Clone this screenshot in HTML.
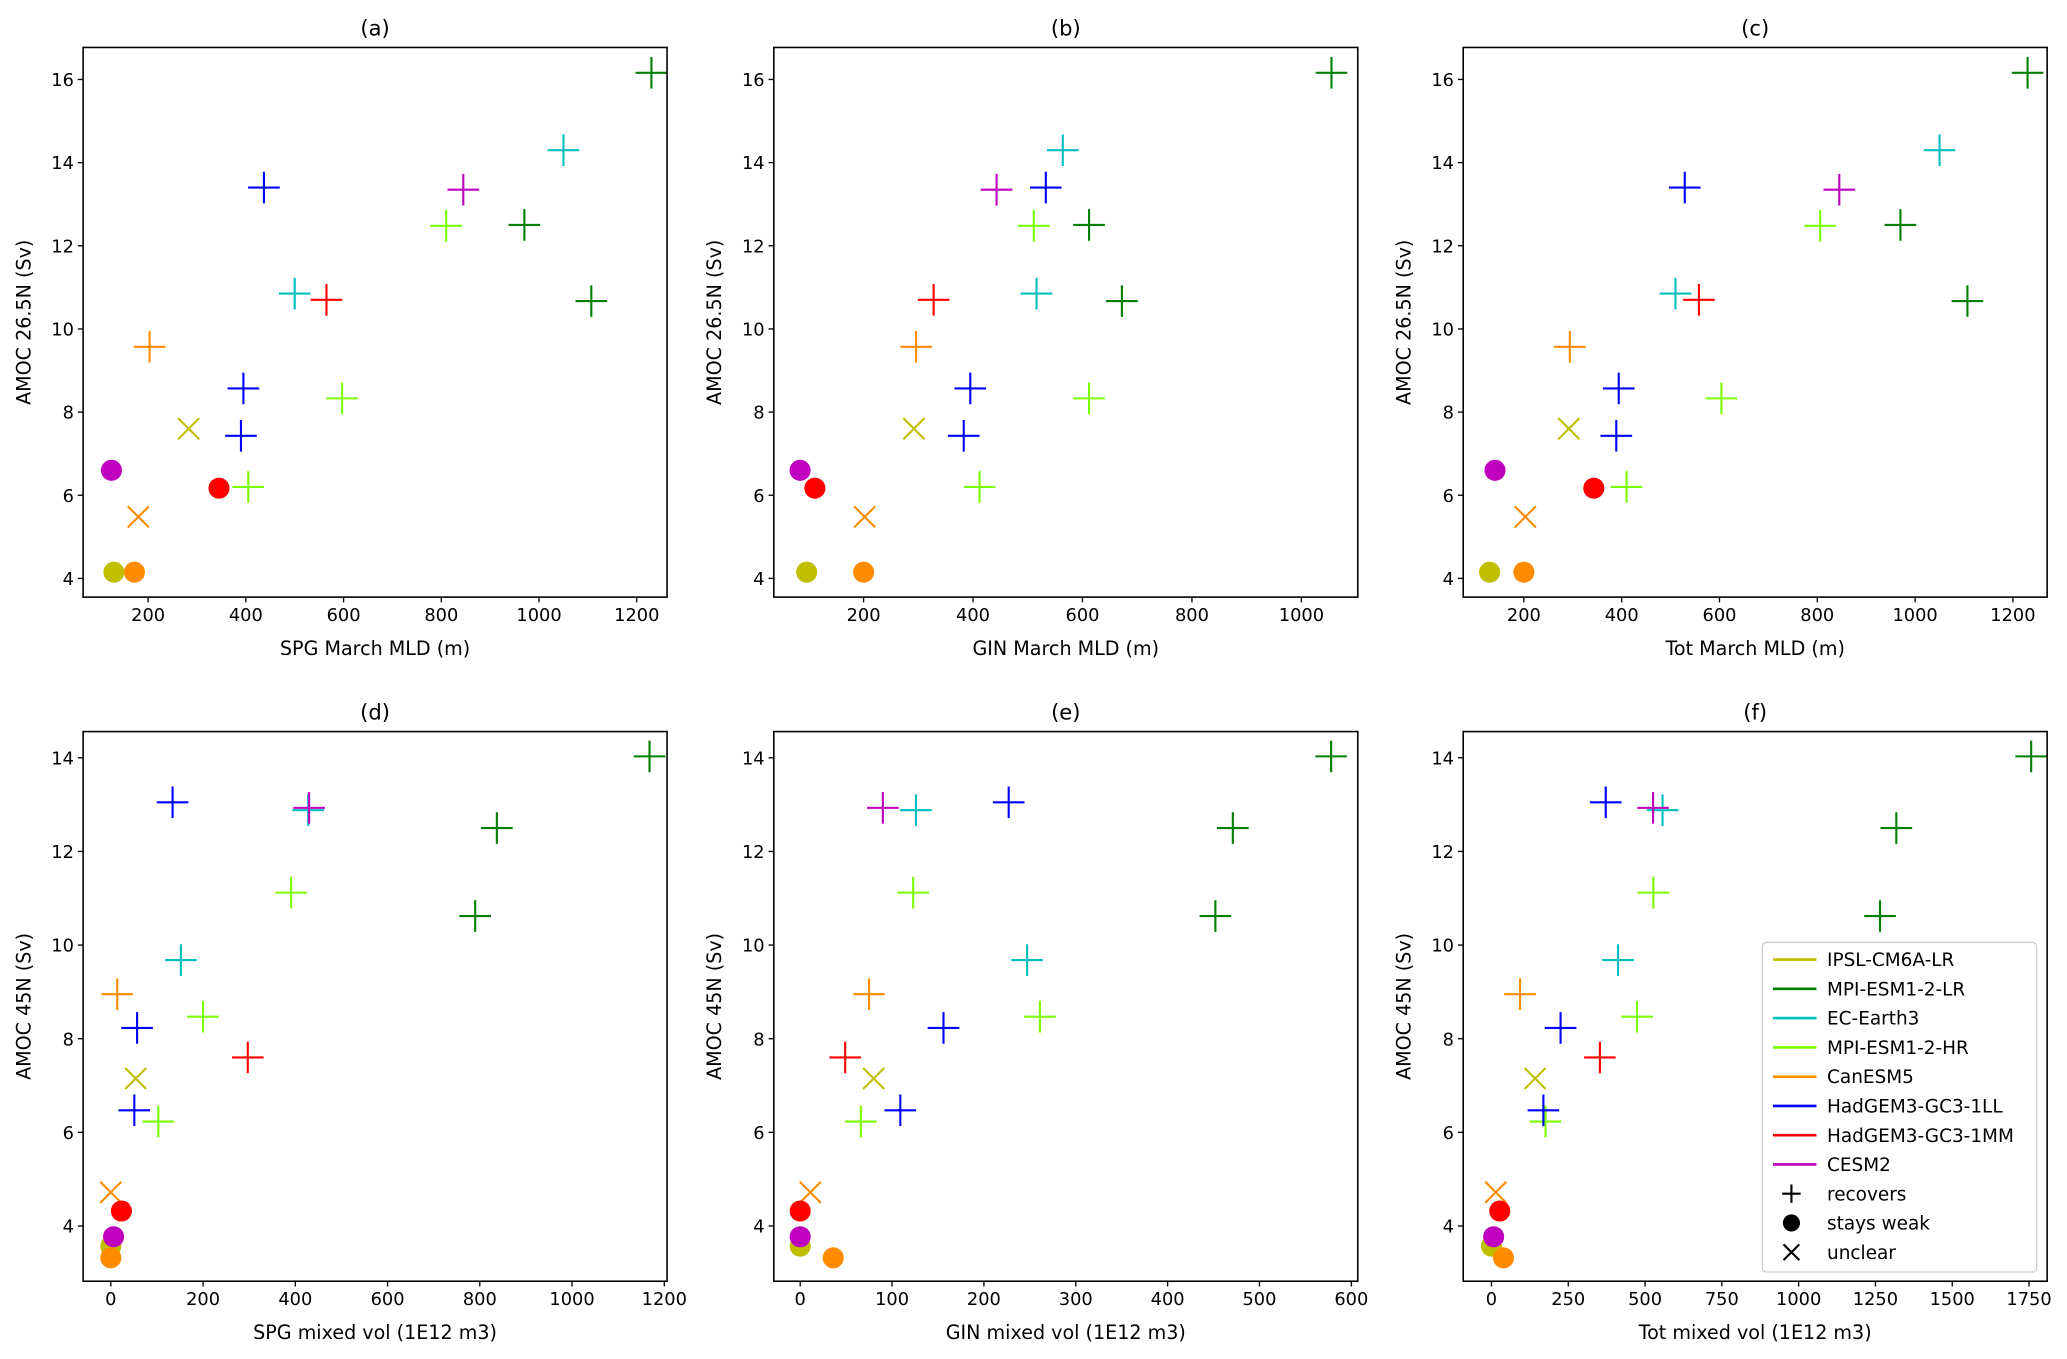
<!DOCTYPE html>
<html><head><meta charset="utf-8"><style>
html,body{margin:0;padding:0;background:#fff;}
svg{display:block;font-family:"DejaVu Sans","Liberation Sans",sans-serif;}
</style></head>
<body>
<svg id="fig" width="2067" height="1359" viewBox="0 0 1568 1031" xmlns="http://www.w3.org/2000/svg"></svg>
<script>
// ---- data ----
const models = ["IPSL-CM6A-LR","MPI-ESM1-2-LR","EC-Earth3","MPI-ESM1-2-HR","CanESM5","HadGEM3-GC3-1LL","HadGEM3-GC3-1MM","CESM2"];
const statuses = ["recovers","stays weak","unclear"];
const pointModel  = [1,1,1,2,2,5,5,5,7,7,3,3,3,6,6,4,4,4,0,0];
const pointStatus = [0,0,0,0,0,0,0,0,0,1,0,0,0,0,1,0,2,1,2,1];
const amoc26 = [16.16,12.5,10.67,14.3,10.85,13.4,8.57,7.43,13.35,6.6,12.48,8.33,6.2,10.7,6.17,9.57,5.48,4.15,7.6,4.15];
const amoc45 = [14.03,12.5,10.62,12.88,9.68,13.05,8.23,6.47,12.93,3.77,11.12,8.47,6.23,7.6,4.32,8.95,4.72,3.32,7.15,3.57];
const spgMld = [1230,970,1107,1050,500,437,395,390,845,125,810,597,405,565,345,203,180,172,283,130];
const ginMld = [1055,612,672,564,516,533,395,383,443,84,511,612,412,328,111,296,202,200,292,96];
const totMld = [1230,970,1107,1050,510,529,394,389,845,141,806,604,410,558,343,294,203,200,292,130];
const spgVol = [1168,837,790,428,152,134,57,51,430,6,391,200,103,297,23,14,0,0,54,0];
const ginVol = [578,471,452,126,247,227,156,109,90,0,123,261,66,49,0,75,11,36,80,0];
const totVol = [1757,1318,1265,557,412,372,225,169,526,7,527,474,176,353,27,93,14,39,142,0];
const ticksA = [200,400,600,800,1000,1200];
const ticksB = [200,400,600,800,1000];
const ticksTop = [4,6,8,10,12,14,16];
const ticksD = [0,200,400,600,800,1000,1200];
const ticksE = [0,100,200,300,400,500,600];
const ticksF = [0,250,500,750,1000,1250,1500,1750];
const ticksBot = [4,6,8,10,12,14];

const colors = ["#bfbf00","#008000","#00bfbf","#7cfc00","#ff8c00","#0000ff","#ff0000","#bf00bf"];
const NS="http://www.w3.org/2000/svg";
const svg=document.getElementById('fig');
function mk(tag,attrs,parent){const e=document.createElementNS(NS,tag);for(const k in attrs)e.setAttribute(k,attrs[k]);(parent||svg).appendChild(e);return e;}

const panels=[
 {id:"a",x0:63,x1:506,y0:36,y1:453,xd:[67,1262],yd:[3.55,16.77],xs:spgMld,ys:amoc26,xt:ticksA,yt:ticksTop,xl:"SPG March MLD (m)",yl:"AMOC 26.5N (Sv)"},
 {id:"b",x0:587,x1:1030,y0:36,y1:453,xd:[36,1103],yd:[3.55,16.77],xs:ginMld,ys:amoc26,xt:ticksB,yt:ticksTop,xl:"GIN March MLD (m)",yl:"AMOC 26.5N (Sv)"},
 {id:"c",x0:1110,x1:1553,y0:36,y1:453,xd:[76,1270],yd:[3.55,16.77],xs:totMld,ys:amoc26,xt:ticksA,yt:ticksTop,xl:"Tot March MLD (m)",yl:"AMOC 26.5N (Sv)"},
 {id:"d",x0:63,x1:506,y0:555,y1:972,xd:[-60,1206],yd:[2.82,14.56],xs:spgVol,ys:amoc45,xt:ticksD,yt:ticksBot,xl:"SPG mixed vol (1E12 m3)",yl:"AMOC 45N (Sv)"},
 {id:"e",x0:587,x1:1030,y0:555,y1:972,xd:[-28.7,607],yd:[2.82,14.56],xs:ginVol,ys:amoc45,xt:ticksE,yt:ticksBot,xl:"GIN mixed vol (1E12 m3)",yl:"AMOC 45N (Sv)"},
 {id:"f",x0:1110,x1:1553,y0:555,y1:972,xd:[-92,1809],yd:[2.82,14.56],xs:totVol,ys:amoc45,xt:ticksF,yt:ticksBot,xl:"Tot mixed vol (1E12 m3)",yl:"AMOC 45N (Sv)"}
];
const drawOrder=[0,1,2,3,4,5,6,7];

function marker(g,st,cx,cy,col){
  let m;
  if(st===0){
    m=mk('path',{d:`M${cx-12},${cy}H${cx+12}M${cx},${cy-12}V${cy+12}`,stroke:col,'stroke-width':1.6,fill:'none'},g);
  }else if(st===1){
    m=mk('circle',{cx:cx,cy:cy,r:8,fill:col},g);
  }else{
    m=mk('path',{d:`M${cx-8},${cy-8}L${cx+8},${cy+8}M${cx-8},${cy+8}L${cx+8},${cy-8}`,stroke:col,'stroke-width':1.6,fill:'none'},g);
  }
  return m;
}

panels.forEach(p=>{
  const g=mk('g',{});
  
  
  const X=v=>p.x0+(v-p.xd[0])/(p.xd[1]-p.xd[0])*(p.x1-p.x0);
  const Y=v=>p.y1-(v-p.yd[0])/(p.yd[1]-p.yd[0])*(p.y1-p.y0);
  const t=mk('text',{x:(p.x0+p.x1)/2,y:p.y0-9,'text-anchor':'middle','font-size':16},g);
  t.textContent='('+p.id+')';
  
  
  const pg=mk('g',{},g);
  
  
  drawOrder.forEach(mi=>{
    for(let i=0;i<pointModel.length;i++){
      if(pointModel[i]!==mi)continue;
      const m=marker(pg,pointStatus[i],X(p.xs[i]),Y(p.ys[i]),colors[mi]);
      
      
    }
  });
  const fr=mk('rect',{x:p.x0,y:p.y0,width:p.x1-p.x0,height:p.y1-p.y0,fill:'none',stroke:'#000','stroke-width':1.2},g);
  
  
  p.xt.forEach(v=>{
    const x=X(v);
    mk('line',{x1:x,x2:x,y1:p.y1,y2:p.y1+4,stroke:'#000','stroke-width':1},g);
    const tl=mk('text',{x:x,y:p.y1+18,'text-anchor':'middle','font-size':13.5},g);
    tl.textContent=v;
    
    
  });
  p.yt.forEach(v=>{
    const y=Y(v);
    mk('line',{x1:p.x0-4,x2:p.x0,y1:y,y2:y,stroke:'#000','stroke-width':1},g);
    const tl=mk('text',{x:p.x0-7,y:y+5,'text-anchor':'end','font-size':13.5},g);
    tl.textContent=v;
    
    
  });
  const xl=mk('text',{x:(p.x0+p.x1)/2,y:p.y1+44,'text-anchor':'middle','font-size':14.5},g);
  xl.textContent=p.xl;
  
  
  const yx=p.x0-40, yy=(p.y0+p.y1)/2;
  const yl=mk('text',{x:yx,y:yy,'text-anchor':'middle','font-size':14.5,transform:`rotate(-90 ${yx} ${yy})`},g);
  yl.textContent=p.yl;
  
  
});

const lg=mk('g',{});


mk('rect',{x:1337,y:715,width:208,height:250,rx:3,fill:'#fff','fill-opacity':0.85,stroke:'#ccc','stroke-width':1},lg);
const rowY=i=>728+i*22.2;
models.forEach((m,i)=>{
  const y=rowY(i);
  const ln=mk('line',{x1:1345,x2:1378,y1:y,y2:y,stroke:colors[i],'stroke-width':2},lg);
  
  
  const t=mk('text',{x:1386,y:y+5,'font-size':14},lg);
  t.textContent=m;
  
  
});
statuses.forEach((s,j)=>{
  const y=rowY(models.length+j);
  const mm=j===0?mk('path',{d:`M1352,${y}H1366M1359,${y-7}V${y+7}`,stroke:'#000','stroke-width':1.6,fill:'none'},lg)
    :j===1?mk('circle',{cx:1359,cy:y,r:6.5,fill:'#000'},lg)
    :mk('path',{d:`M1353,${y-6}L1365,${y+6}M1353,${y+6}L1365,${y-6}`,stroke:'#000','stroke-width':1.6,fill:'none'},lg);
  
  
  const t=mk('text',{x:1386,y:y+5,'font-size':14},lg);
  t.textContent=s;
  
  
});
</script>
</body></html>
